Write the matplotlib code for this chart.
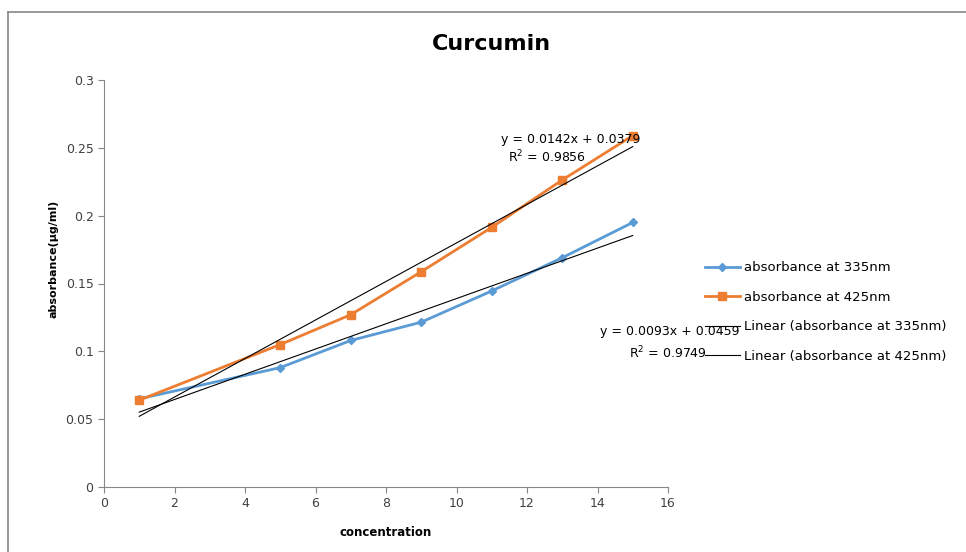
import matplotlib
matplotlib.use("Agg")
import matplotlib.pyplot as plt
from matplotlib.lines import Line2D

plt.rcParams['font.family'] = ['DejaVu Sans']

# data
concentration = [1, 5, 7, 9, 11, 13, 15]
abs_335 = [0.065, 0.088, 0.108, 0.1215, 0.1445, 0.169, 0.195]
abs_425 = [0.064, 0.105, 0.127, 0.1587, 0.1914, 0.2263, 0.259]

# trendline coefficients as printed on the chart
fit_335 = (0.0093, 0.0459, 0.9749)
fit_425 = (0.0142, 0.0379, 0.9856)

blue = '#5B9BD5'
orange = '#ED7D31'
gray = '#868686'

W, H = 966, 552
fig = plt.figure(figsize=(W / 100, H / 100), dpi=100)
ax = fig.add_axes([104 / W, 1 - 487 / H, 564 / W, 407 / H])

ax.plot(concentration, abs_335, color=blue, lw=2, marker='D', ms=4,
        label='absorbance at 335nm')
ax.plot(concentration, abs_425, color=orange, lw=2, marker='s', ms=6,
        label='absorbance at 425nm')

# linear trendlines
xs = [concentration[0], concentration[-1]]
ax.plot(xs, [fit_335[0] * x + fit_335[1] for x in xs], color='black', lw=0.8,
        label='Linear (absorbance at 335nm)')
ax.plot(xs, [fit_425[0] * x + fit_425[1] for x in xs], color='black', lw=0.8,
        label='Linear (absorbance at 425nm)')

ax.set_xlim(0, 16)
ax.set_ylim(0, 0.3)
ax.set_xticks(range(0, 17, 2))
ax.set_yticks([0, 0.05, 0.1, 0.15, 0.2, 0.25, 0.3])
ax.set_yticklabels(['0', '0.05', '0.1', '0.15', '0.2', '0.25', '0.3'])
for s in ['top', 'right']:
    ax.spines[s].set_visible(False)
for s in ['left', 'bottom']:
    ax.spines[s].set_color(gray)
ax.tick_params(colors=gray, labelcolor='#404040', labelsize=9, length=4)

ax.set_xlabel('concentration', fontsize=8.5, fontweight='bold')
ax.set_ylabel('absorbance(µg/ml)', fontsize=8, fontweight='bold')
ax.xaxis.set_label_coords(0.5, -0.097)
ax.yaxis.set_label_coords(-0.081, 0.56)

# equations
fig.text(640 / W, 1 - 139 / H, 'y = %.4fx + %.4f' % fit_425[:2],
         fontsize=9, ha='right', va='center')
fig.text(586 / W, 1 - 157 / H, 'R$^2$ = %.4f' % fit_425[2],
         fontsize=9, ha='right', va='center')
fig.text(740 / W, 1 - 332 / H, 'y = %.4fx + %.4f' % fit_335[:2],
         fontsize=9, ha='right', va='center')
fig.text(707 / W, 1 - 353 / H, 'R$^2$ = %.4f' % fit_335[2],
         fontsize=9, ha='right', va='center')

fig.legend(loc='upper left', bbox_to_anchor=(700 / W, 1 - 256 / H),
           frameon=False, fontsize=9.5, handlelength=2.6,
           handletextpad=0.3, labelspacing=1.25, borderaxespad=0)

fig.text(491 / W, 1 - 44 / H, 'Curcumin', fontsize=16, fontweight='bold',
         ha='center', va='center')

# chart border (top and left visible)
fig.add_artist(Line2D([8 / W, 8 / W], [0, 1 - 12 / H], color=gray, lw=1.2,
                      transform=fig.transFigure))
fig.add_artist(Line2D([8 / W, 1], [1 - 12 / H, 1 - 12 / H], color=gray, lw=1.2,
                      transform=fig.transFigure))

fig.savefig('out.png', dpi=100)
